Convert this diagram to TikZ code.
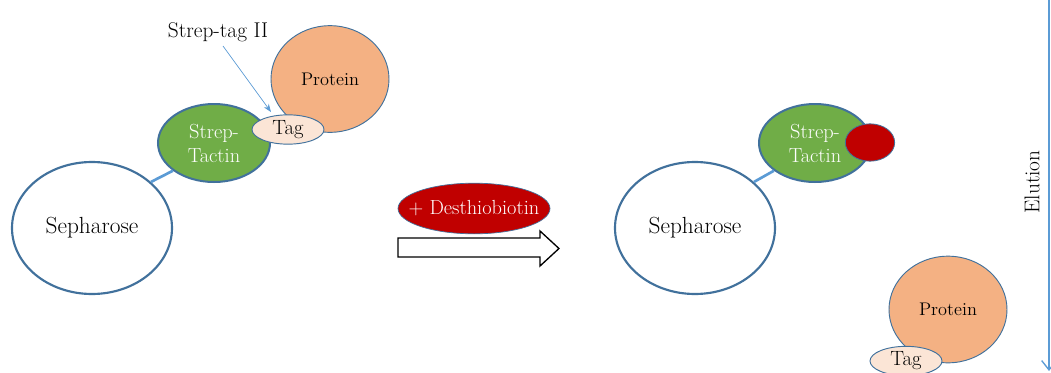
\documentclass[tikz,border=0pt]{standalone}
\usetikzlibrary{shapes.geometric,arrows.meta}
\definecolor{edgeblue}{HTML}{41719C}
\definecolor{lineblue}{HTML}{5B9BD5}
\definecolor{stgreen}{HTML}{70AD47}
\definecolor{protorange}{HTML}{F4B183}
\definecolor{tagfill}{HTML}{FBE5D6}
\definecolor{dred}{HTML}{C00000}
\tikzset{
  blob/.style={ellipse, inner sep=0pt, draw=edgeblue, align=center},
  sepbox/.style={blob, fill=white, line width=1.6pt, minimum width=120pt, minimum height=99pt, font=\fontsize{17.5}{19}\selectfont},
  stbox/.style={blob, fill=stgreen, line width=1.5pt, minimum width=84pt, minimum height=58.5pt, text=white, font=\fontsize{15.3}{18}\selectfont},
  protbox/.style={blob, fill=protorange, line width=0.7pt, minimum width=88.5pt, minimum height=80pt, font=\fontsize{13.7}{15}\selectfont},
  tagbox/.style={blob, fill=tagfill, line width=0.7pt, minimum width=54pt, minimum height=22pt, font=\fontsize{15.5}{17}\selectfont},
  redbox/.style={blob, fill=dred, line width=0.6pt, minimum width=37pt, minimum height=28pt},
  linker/.style={lineblue, line width=2pt},
  lbl/.style={font=\fontsize{16}{18}\selectfont, inner sep=0pt}
}
\begin{document}
\begin{tikzpicture}[x=0.75pt,y=-0.75pt]
\fill[white] (0,0) rectangle (1051,372);
\useasboundingbox (0,0) rectangle (1051,372);
% left complex
\node[sepbox] (sepL) at (92,228) {Sepharose};
\node[stbox] (stL) at (214,143) {Strep-\\Tactin};
\node[protbox] (protL) at (330,79) {Protein};
\node[tagbox] (tagL) at (288,129.5) {Tag};
\draw[linker] (sepL.38) -- (stL.214);
\node[lbl] (stlab) at (218,32) {Strep-tag II};
\coordinate (tagtip) at (271,112);
\draw[lineblue, line width=0.5pt, -{Stealth[length=6pt,width=4.5pt]}] (223,46) -- (tagtip);
% middle
\node[blob, fill=dred, line width=0.5pt, inner xsep=-11pt, minimum width=114pt, minimum height=38pt, text=white, font=\fontsize{15.3}{17}\selectfont] (dtb) at (474,208.5) {+ Desthiobiotin};
\draw[black, line width=1pt, fill=white]
  (398,238) -- (540,238) -- (540,231) -- (559,248.5) -- (540,266) -- (540,257) -- (398,257) -- cycle;
% right complex
\node[sepbox] (sepR) at (695,228) {Sepharose};
\node[stbox] (stR) at (815,143) {Strep-\\Tactin};
\node[redbox] (redR) at (870,142.5) {};
\draw[linker] (sepR.38) -- (stR.214);
\node[protbox] (protR) at (948,309.5) {Protein};
\node[tagbox] (tagR) at (906,361) {Tag};
% elution arrow
\coordinate (el1) at (1049,0);
\coordinate (el2) at (1049,371);
\draw[lineblue, line width=1pt, -{Straight Barb[length=7pt,width=11pt]}] (el1) -- (el2);
\node[lbl, rotate=90] (elut) at (1032,182) {Elution};
\end{tikzpicture}
\end{document}
